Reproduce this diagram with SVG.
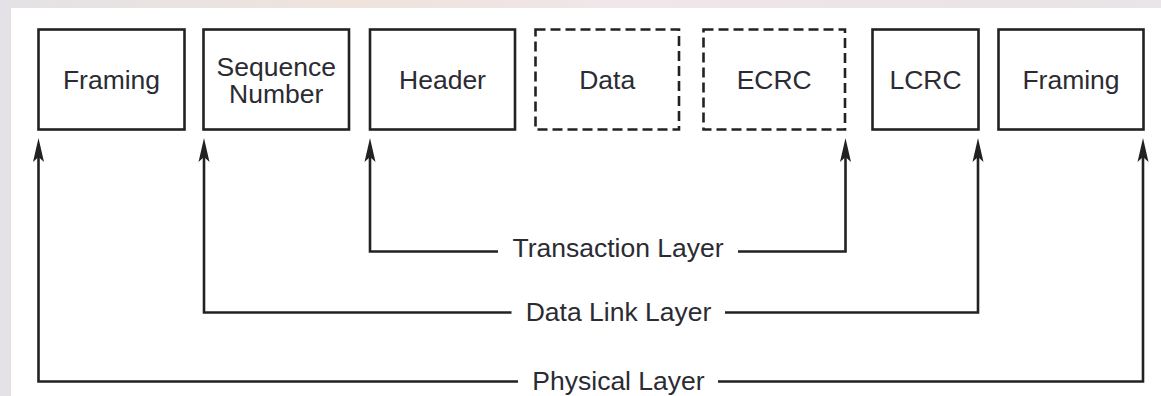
<svg xmlns="http://www.w3.org/2000/svg" width="1161" height="396" viewBox="0 0 1161 396">
  <style>
    .box { fill: #ffffff; stroke: #222222; stroke-width: 2.6; }
    .dashed { stroke-dasharray: 10 5; }
    .label { font-family: "Liberation Sans", Arial, sans-serif; font-size: 26.5px; fill: #2b2b33; text-anchor: middle; }
    .wire { fill: none; stroke: #222222; stroke-width: 2.6; stroke-linejoin: miter; }
  </style>
  <defs>
    <linearGradient id="edge" x1="0" y1="0" x2="1" y2="0">
      <stop offset="0" stop-color="#e4e2e6"/>
      <stop offset="0.3" stop-color="#efe3dc"/>
      <stop offset="0.55" stop-color="#f1e6ea"/>
      <stop offset="0.8" stop-color="#ece4e6"/>
      <stop offset="1" stop-color="#e9e5e8"/>
    </linearGradient>
    <marker id="tip" markerUnits="userSpaceOnUse" viewBox="-26 -7 30 14" markerWidth="30" markerHeight="14" refX="-8" refY="0" orient="auto">
      <path d="M0,0 L-24,-5.5 L-19,0 L-24,5.5 Z" fill="#222222"/>
    </marker>
  </defs>

  <!-- page background and white drawing panel -->
  <rect x="0" y="0" width="1161" height="396" fill="url(#edge)"/>
  <rect x="11" y="8" width="1150" height="388" fill="#ffffff"/>

  <!-- packet fields -->
  <g id="framing-start">
    <rect class="box" x="38.5" y="29.5" width="146" height="100"/>
    <text class="label" x="111.5" y="88.5">Framing</text>
  </g>
  <g id="sequence-number">
    <rect class="box" x="203.5" y="29.5" width="145.5" height="100"/>
    <text class="label" x="276.2" y="75.5">Sequence</text>
    <text class="label" x="276.2" y="103">Number</text>
  </g>
  <g id="header">
    <rect class="box" x="370" y="29.5" width="145" height="100"/>
    <text class="label" x="442.5" y="88.5">Header</text>
  </g>
  <g id="data">
    <rect class="box dashed" x="535.5" y="29.5" width="143.5" height="100"/>
    <text class="label" x="607.2" y="88.5">Data</text>
  </g>
  <g id="ecrc">
    <rect class="box dashed" x="703.5" y="29.5" width="141.5" height="100"/>
    <text class="label" x="774.2" y="88.5">ECRC</text>
  </g>
  <g id="lcrc">
    <rect class="box" x="872.5" y="29.5" width="106" height="100"/>
    <text class="label" x="925.5" y="88.5">LCRC</text>
  </g>
  <g id="framing-end">
    <rect class="box" x="998.5" y="29.5" width="145" height="100"/>
    <text class="label" x="1071" y="88.5">Framing</text>
  </g>

  <!-- layer brackets -->
  <g id="connectors">
    <path class="wire" d="M498,251.5 H370 V146" marker-end="url(#tip)"/>
    <path class="wire" d="M738,251.5 H845.5 V146" marker-end="url(#tip)"/>
    <path class="wire" d="M511.5,312.5 H204 V146" marker-end="url(#tip)"/>
    <path class="wire" d="M725,312.5 H978 V146" marker-end="url(#tip)"/>
    <path class="wire" d="M518,381.5 H38.5 V146" marker-end="url(#tip)"/>
    <path class="wire" d="M718,381.5 H1143 V146" marker-end="url(#tip)"/>
  </g>

  <g id="layer-labels">
    <text class="label" x="618" y="256.5">Transaction Layer</text>
    <text class="label" x="618.5" y="321">Data Link Layer</text>
    <text class="label" x="618.5" y="390">Physical Layer</text>
  </g>
</svg>
